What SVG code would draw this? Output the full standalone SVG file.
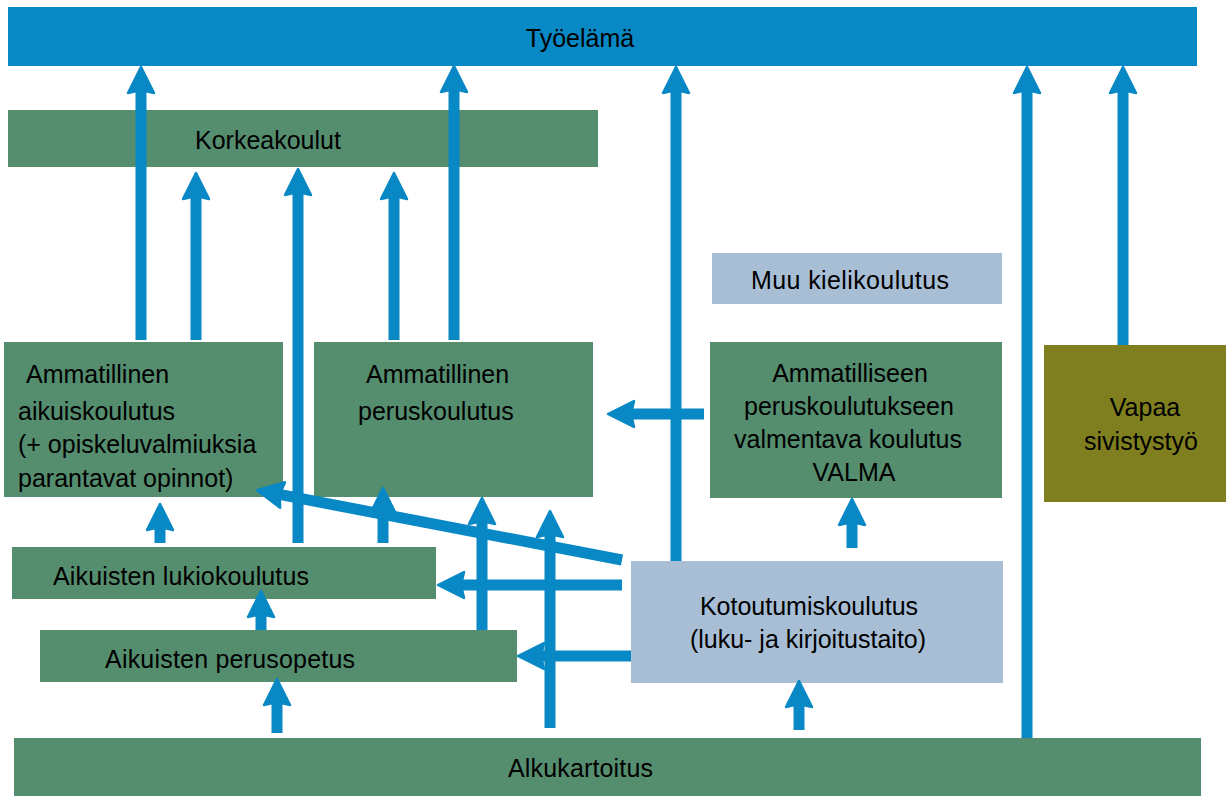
<svg xmlns="http://www.w3.org/2000/svg" width="1232" height="796" viewBox="0 0 1232 796">
<style>
.g{fill:#558d6f}.lb{fill:#a8bed4}.bl{fill:#0888c4}.ol{fill:#7f7f1f}
text{font-family:"Liberation Sans",Arial,sans-serif;font-size:25px;fill:#000}
.c{text-anchor:middle}
.a{stroke:#0888c4;stroke-width:11;fill:none;marker-end:url(#ah)}
</style>
<defs>
<marker id="ah" viewBox="0 0 32 32" markerWidth="32" markerHeight="32" refX="5" refY="16" orient="auto" markerUnits="userSpaceOnUse">
<path d="M29,16 L3,3 L6,16 L3,29 Z" fill="#0888c4" stroke="#0888c4" stroke-width="2.5" stroke-linejoin="round"/>
</marker>
</defs>
<g id="tyoelama"><rect class="bl" x="8" y="7" width="1189" height="59"/><text class="c" x="580" y="47">Työelämä</text></g>
<g id="korkeakoulut"><rect class="g" x="8" y="110" width="590" height="57"/><text x="195" y="149">Korkeakoulut</text></g>
<g id="muu"><rect class="lb" x="712" y="253" width="290" height="51"/><text x="751" y="289" textLength="198">Muu kielikoulutus</text></g>
<g id="aikuiskoulutus"><rect class="g" x="4" y="342" width="279" height="155"/>
<text x="26" y="383">Ammatillinen</text><text x="18" y="420">aikuiskoulutus</text><text x="18" y="453">(+ opiskeluvalmiuksia</text><text x="18" y="487">parantavat opinnot)</text></g>
<g id="peruskoulutus"><rect class="g" x="314" y="342" width="279" height="155"/>
<text x="366" y="383">Ammatillinen</text><text x="358" y="420">peruskoulutus</text></g>
<g id="valma"><rect class="g" x="710" y="342" width="292" height="156"/>
<text class="c" x="850" y="382">Ammatilliseen</text><text class="c" x="849" y="415">peruskoulutukseen</text><text class="c" x="848" y="448">valmentava koulutus</text><text class="c" x="854" y="481">VALMA</text></g>
<g id="vapaa"><rect class="ol" x="1044" y="345" width="182" height="157"/>
<text class="c" x="1145" y="416">Vapaa</text><text class="c" x="1141" y="450">sivistystyö</text></g>
<g id="lukio"><rect class="g" x="12" y="547" width="424" height="52"/><text x="53" y="585" textLength="256">Aikuisten lukiokoulutus</text></g>
<g id="perusopetus"><rect class="g" x="40" y="630" width="477" height="52"/><text x="105" y="668" textLength="250">Aikuisten perusopetus</text></g>
<g id="kotoutumis"><rect class="lb" x="631" y="561" width="372" height="122"/>
<text class="c" x="809" y="615">Kotoutumiskoulutus</text><text class="c" x="808" y="648">(luku- ja kirjoitustaito)</text></g>
<g id="alkukartoitus"><rect class="g" x="14" y="738" width="1187" height="58"/><text x="508" y="777" textLength="145">Alkukartoitus</text></g>
<g id="connectors">
<path class="a" d="M141,340 V91"/>
<path class="a" d="M196,340 V197"/>
<path class="a" d="M298,543 V193"/>
<path class="a" d="M394,340 V197"/>
<path class="a" d="M454,340 V90"/>
<path class="a" d="M676,561 V91"/>
<path class="a" d="M1027,738 V91"/>
<path class="a" d="M1123,345 V91"/>
<path class="a" d="M704,414 H632"/>
<path class="a" d="M852,548 V523"/>
<path class="a" d="M160,543 V528"/>
<path class="a" d="M383,543 V512"/>
<path class="a" d="M482,630 V522"/>
<path class="a" d="M550,728 V535"/>
<path class="a" d="M622,560 L280.6,494.7"/>
<path class="a" d="M622,585 H462"/>
<path class="a" d="M631,656 H542"/>
<path class="a" d="M261,630 V615"/>
<path class="a" d="M277,733 V703"/>
<path class="a" d="M799,730 V705"/>
</g>
</svg>
